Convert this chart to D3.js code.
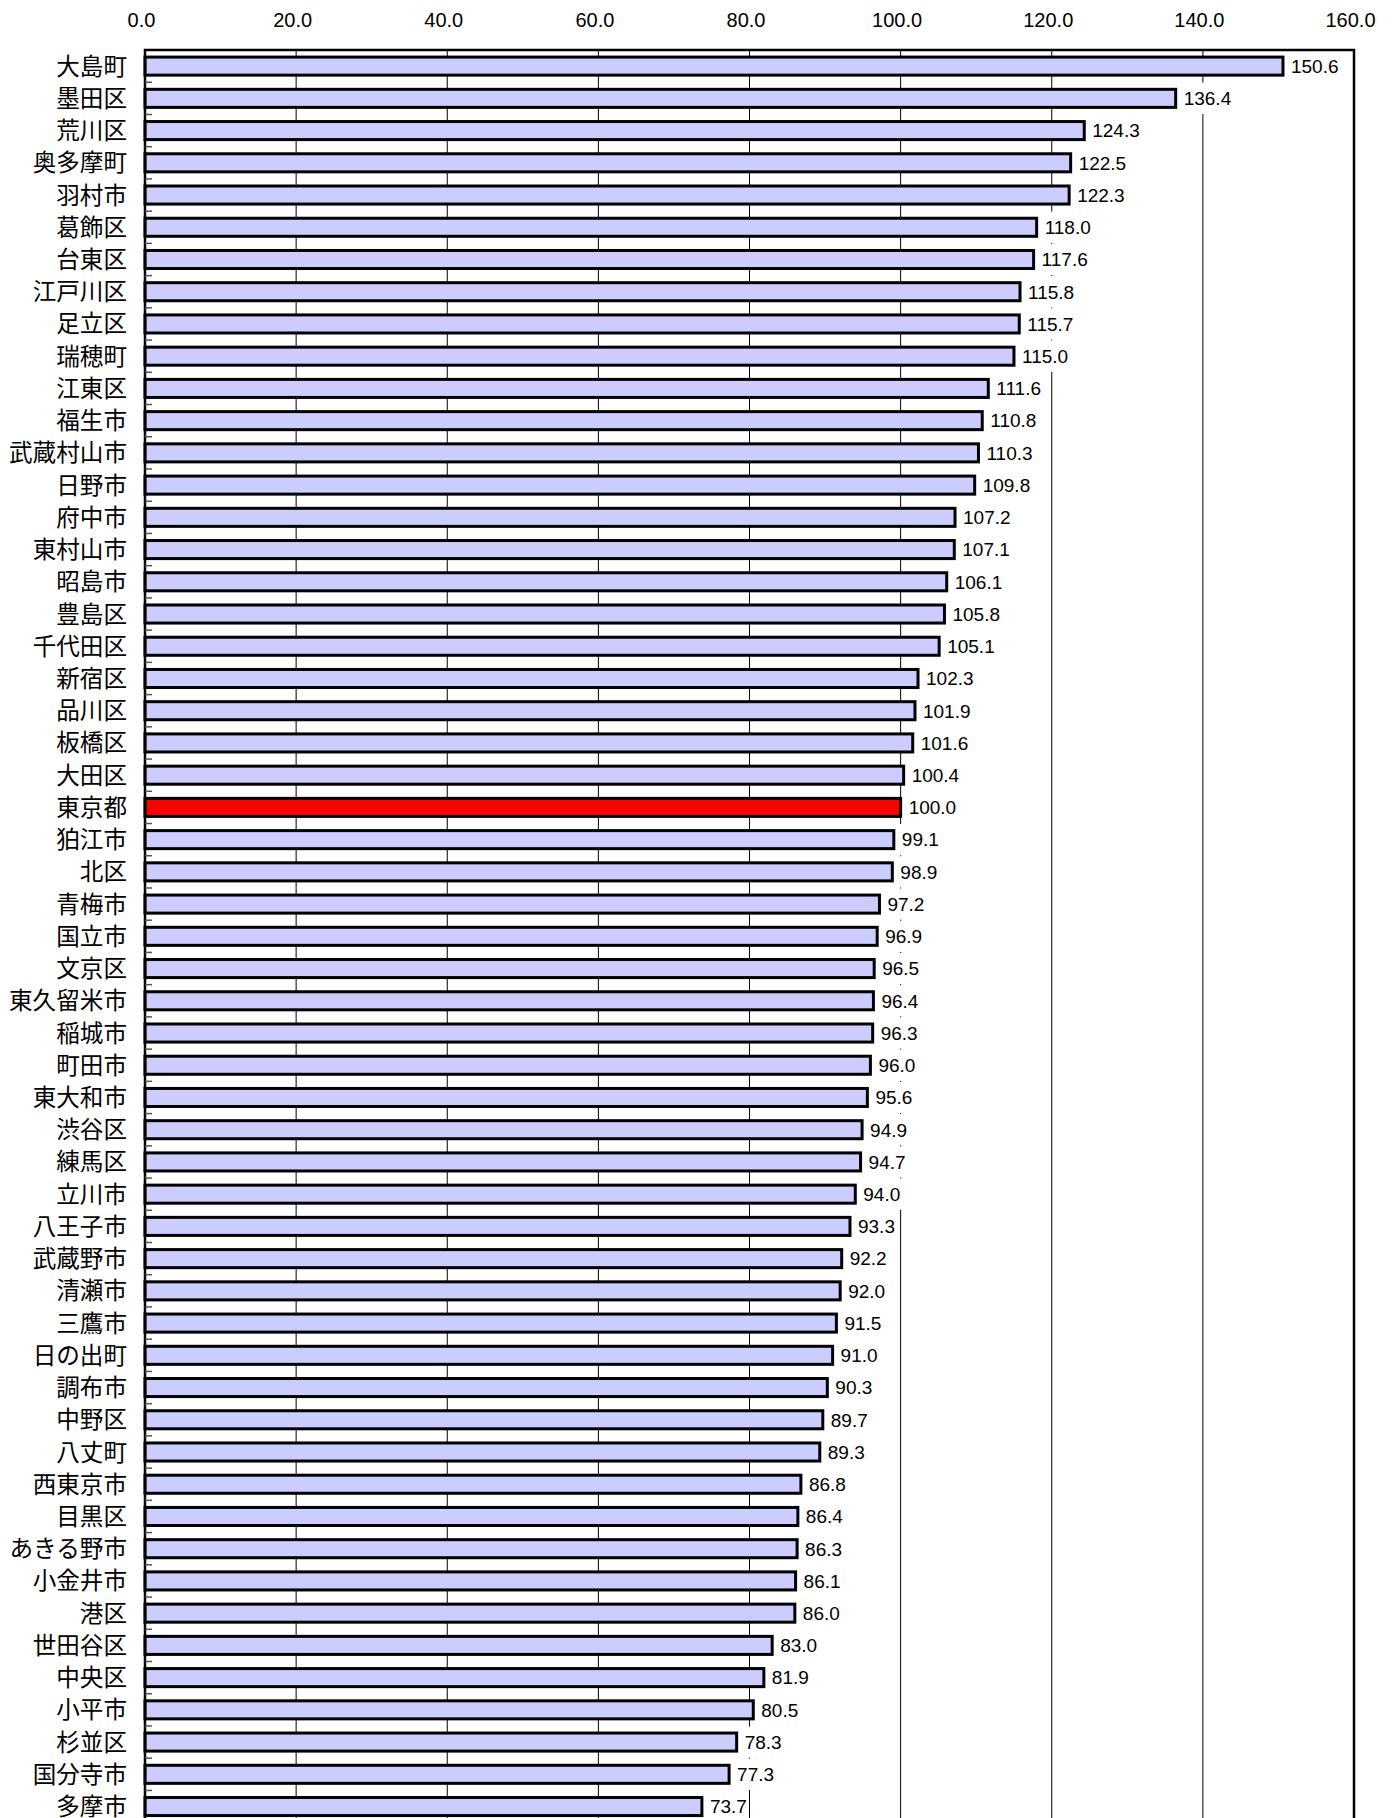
<!DOCTYPE html>
<html>
<head>
<meta charset="utf-8">
<script src="https://cdn.jsdelivr.net/npm/d3@7"></script>
<style>
  body { margin: 0; background: #fff; }
  svg { display: block; }
</style>
</head>
<body>
<div id="chart"></div>
<script>
var names = ["大島町", "墨田区", "荒川区", "奥多摩町", "羽村市", "葛飾区", "台東区", "江戸川区", "足立区", "瑞穂町",
  "江東区", "福生市", "武蔵村山市", "日野市", "府中市", "東村山市", "昭島市", "豊島区", "千代田区", "新宿区",
  "品川区", "板橋区", "大田区", "東京都", "狛江市", "北区", "青梅市", "国立市", "文京区", "東久留米市",
  "稲城市", "町田市", "東大和市", "渋谷区", "練馬区", "立川市", "八王子市", "武蔵野市", "清瀬市", "三鷹市",
  "日の出町", "調布市", "中野区", "八丈町", "西東京市", "目黒区", "あきる野市", "小金井市", "港区", "世田谷区",
  "中央区", "小平市", "杉並区", "国分寺市", "多摩市"];

var values = [150.6, 136.4, 124.3, 122.5, 122.3, 118.0, 117.6, 115.8, 115.7, 115.0,
  111.6, 110.8, 110.3, 109.8, 107.2, 107.1, 106.1, 105.8, 105.1, 102.3,
  101.9, 101.6, 100.4, 100.0, 99.1, 98.9, 97.2, 96.9, 96.5, 96.4,
  96.3, 96.0, 95.6, 94.9, 94.7, 94.0, 93.3, 92.2, 92.0, 91.5,
  91.0, 90.3, 89.7, 89.3, 86.8, 86.4, 86.3, 86.1, 86.0, 83.0,
  81.9, 80.5, 78.3, 77.3, 73.7];

var ticks = [0, 20, 40, 60, 80, 100, 120, 140, 160];
var highlight = "東京都";

var data = names.map(function(n, i) { return {name: n, value: values[i]}; });

var W = 1396, H = 1818;
var plotL = 145, plotR = 1354, plotT = 50, step = 32.23;
var plotB = plotT + names.length * step;

var x = d3.scaleLinear().domain([0, 160]).range([plotL, plotR]);
var y = d3.scaleBand().domain(names).range([plotT, plotB])
          .paddingInner(0.44).paddingOuter(0.22);

var svg = d3.select("#chart").append("svg")
            .attr("width", W).attr("height", H);

svg.append("rect").attr("width", W).attr("height", H).attr("fill", "#fff");

// gridlines
svg.append("g").selectAll("line")
   .data(ticks.slice(1, -1))
   .enter().append("line")
   .attr("x1", function(d) { return x(d); })
   .attr("x2", function(d) { return x(d); })
   .attr("y1", plotT).attr("y2", plotB)
   .attr("stroke", "#000").attr("stroke-width", 1);

// bars
svg.append("g").selectAll("rect")
   .data(data)
   .enter().append("rect")
   .attr("x", x(0))
   .attr("y", function(d) { return y(d.name); })
   .attr("width", function(d) { return x(d.value) - x(0); })
   .attr("height", y.bandwidth())
   .attr("fill", function(d) { return d.name === highlight ? "#ff0000" : "#ccccff"; })
   .attr("stroke", "#000").attr("stroke-width", 3);

// value labels with white boxes
var lab = svg.append("g").selectAll("g")
   .data(data)
   .enter().append("g");

lab.append("rect")
   .attr("class", "box")
   .attr("fill", "#fff");

lab.append("text")
   .attr("x", function(d) { return x(d.value) + 8; })
   .attr("y", function(d) { return y(d.name) + y.bandwidth() / 2; })
   .attr("dy", "0.36em")
   .style("font-family", "'Liberation Sans', Arial, sans-serif")
   .style("font-size", "19px")
   .attr("fill", "#000")
   .text(function(d) { return d.value.toFixed(1); });

lab.each(function(d) {
  var g = d3.select(this);
  var bb = g.select("text").node().getBBox();
  var cy = y(d.name) + y.bandwidth() / 2;
  g.select("rect")
   .attr("x", bb.x - 4)
   .attr("width", bb.width + 6)
   .attr("y", cy - step / 2 + 0.5)
   .attr("height", step - 1);
});

// frame
svg.append("rect")
   .attr("x", plotL).attr("y", plotT)
   .attr("width", plotR - plotL).attr("height", plotB - plotT)
   .attr("fill", "none").attr("stroke", "#000").attr("stroke-width", 2.5);

// left inner ticks between categories
svg.append("g").selectAll("line")
   .data(names.slice(1))
   .enter().append("line")
   .attr("x1", plotL).attr("x2", plotL + 7)
   .attr("y1", function(d) { return y(d) - y.step() * y.paddingInner() / 2; })
   .attr("y2", function(d) { return y(d) - y.step() * y.paddingInner() / 2; })
   .attr("stroke", "#555").attr("stroke-width", 1.5);

// top axis labels
var ax = svg.append("g")
   .attr("transform", "translate(0," + plotT + ")")
   .call(d3.axisTop(x).tickValues(ticks).tickSize(0).tickPadding(23).tickFormat(d3.format(".1f")));
ax.select(".domain").remove();
ax.selectAll("text")
  .attr("dx", -4)
  .style("font-family", "'Liberation Sans', Arial, sans-serif")
  .style("font-size", "20px")
  .attr("fill", "#000");

// category labels
svg.append("g").selectAll("text")
   .data(names)
   .enter().append("text")
   .attr("x", plotL - 18)
   .attr("y", function(d) { return y(d) + y.bandwidth() / 2; })
   .attr("dy", "0.36em")
   .attr("text-anchor", "end")
   .style("font-family", "'Noto Sans CJK JP', sans-serif")
   .style("font-size", "23.6px")
   .attr("fill", "#000")
   .text(function(d) { return d; });
</script>
</body>
</html>
